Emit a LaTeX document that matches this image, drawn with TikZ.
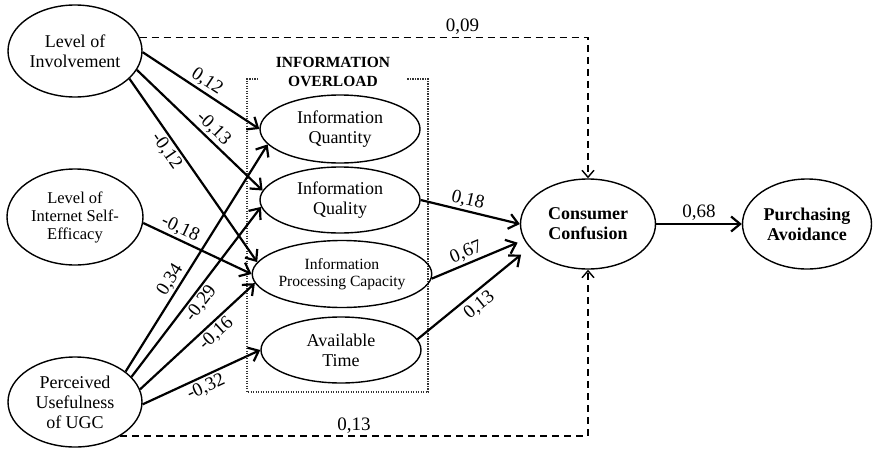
\documentclass[tikz,border=0pt]{standalone}
\usepackage{fontspec}
\setmainfont{Liberation Serif}
\usetikzlibrary{shapes.geometric,arrows.meta}
\begin{document}
\begin{tikzpicture}[x=1pt,y=-1pt,
  lat/.style={ellipse, draw, line width=1.4pt, inner sep=0pt, align=center, font=\fontsize{18}{20}\selectfont},
  arr/.style={line width=2.2pt, -{Straight Barb[length=9pt,width=15pt]}},
  dasharr/.style={line width=1.4pt, dash pattern=on 7pt off 5pt, -{Straight Barb[length=7pt,width=12pt]}},
  lbl/.style={font=\fontsize{19}{21}\selectfont, inner sep=2pt, sloped},
  dotbox/.style={line width=1.8pt, dash pattern=on 1.2pt off 1.3pt, black!80}
]
\useasboundingbox (0,0) rectangle (873,450);

% information overload box
\node[font=\bfseries\fontsize{15.5}{19}\selectfont, align=center, inner sep=0pt] (ttl) at (333,72) {INFORMATION\\OVERLOAD};
\draw[dotbox] (258,79) -- (247,79) -- (247,392) -- (428,392) -- (428,79) -- (407,79);

% latent variables
\node[lat, minimum width=134pt, minimum height=92pt] (inv) at (75,51) {Level of\\Involvement};
\node[lat, minimum width=136pt, minimum height=96pt, font=\fontsize{16.5}{18}\selectfont] (self) at (75,217) {Level of\\Internet Self-\\Efficacy};
\node[lat, minimum width=134pt, minimum height=90pt] (perc) at (75,402) {Perceived\\Usefulness\\of UGC};
\node[lat, minimum width=160pt, minimum height=68pt] (iquan) at (340,129) {Information\\Quantity};
\node[lat, minimum width=160pt, minimum height=66pt] (iqual) at (340,200) {Information\\Quality};
\node[lat, minimum width=161pt, minimum height=67pt, font=\fontsize{15.6}{17}\selectfont] (iproc) at (342,274) {Information\\Processing Capacity};
\node[lat, minimum width=160pt, minimum height=66pt] (itime) at (341,350) {Available\\Time};
\node[lat, minimum width=135pt, minimum height=90pt, font=\bfseries\fontsize{18}{20}\selectfont] (conf) at (588,224) {Consumer\\Confusion};
\node[lat, minimum width=129pt, minimum height=90pt, font=\bfseries\fontsize{18}{20}\selectfont] (purch) at (807,224) {Purchasing\\Avoidance};

% paths into information overload
\draw[arr] (inv.-1) -- node[lbl, above, pos=0.5] {0,12} (iquan.west);
\draw[arr] (inv.-17) -- node[lbl, above, pos=0.55] {-0,13} (iqual.173);
\draw[arr] (inv.-27) -- node[lbl, below, pos=0.36] {-0,12} (iproc.172);
\draw[arr] (self.-5) -- node[lbl, above, pos=0.3] {-0,18} (iproc.west);
\draw[arr] (perc.31) -- node[lbl, above, pos=0.38] {0,34} (iquan.192);
\draw[arr] (perc.24) -- node[lbl, below, pos=0.47] {-0,29} (iqual.185);
\draw[arr] (perc.11) -- node[lbl, below, pos=0.6] {-0,16} (iproc.186);
\draw[arr] (perc.-2) -- node[lbl, below, pos=0.5] {-0,32} (itime.west);

% paths into consumer confusion
\draw[arr] (iqual.east) -- node[lbl, above, pos=0.45] {0,18} (conf.west);
\draw[arr, shorten >=7pt] (iproc.-3) -- node[lbl, above, pos=0.42] {0,67} (conf.194);
\draw[arr, shorten >=11pt] (itime.8) -- node[lbl, below, pos=0.48, inner sep=4pt] {0,13} (conf.202);
\draw[arr] (conf) -- node[lbl, above] {0,68} (purch);

% direct effects
\draw[dasharr] (inv.12) -| node[lbl, above, pos=0.36] {0,09} (conf.north);
\draw[dasharr] (perc.-37) -| node[lbl, above, pos=0.25] {0,13} (conf.south);
\end{tikzpicture}
\end{document}
